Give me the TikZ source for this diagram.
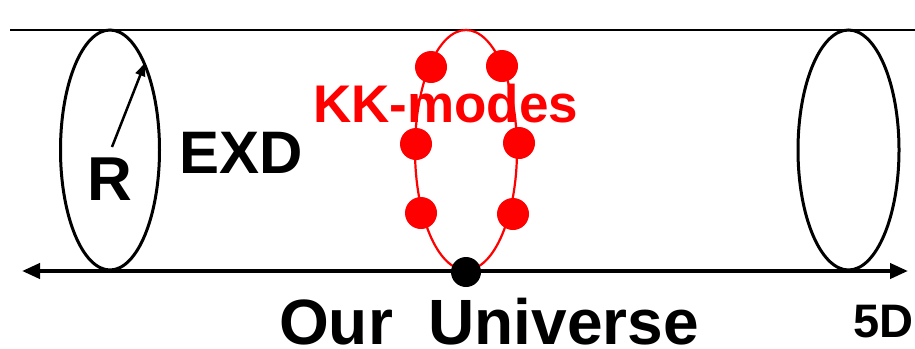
\documentclass[tikz,border=0pt]{standalone}
\usepackage{fontspec}
\setmainfont{Liberation Sans}
\usetikzlibrary{arrows.meta}
\tikzset{
  tube/.style={line width=2.5bp, black},
  ring/.style={line width=3bp, black},
  axis/.style={line width=4bp, black, {Triangle[length=18bp,width=15bp]}-{Triangle[length=18bp,width=15bp]}},
  kkring/.style={line width=2.2bp, red},
  kkdot/.style={circle, fill=red, inner sep=0pt, minimum size=32bp},
  udot/.style={circle, fill=black, inner sep=0pt, minimum size=30bp},
  lbl/.style={inner sep=0pt, font=\bfseries},
}
\begin{document}
\begin{tikzpicture}[x=1bp,y=-1bp]
\useasboundingbox (0,0) rectangle (915,348);
% tube
\coordinate (tl) at (10,30);
\coordinate (tr) at (915,30);
\draw[tube] (tl) -- (tr);
\coordinate (al) at (22,271);
\coordinate (ar) at (908,271);
\draw[axis] (al) -- (ar);
% end rings
\coordinate (lc) at (110,150);
\coordinate (rc) at (848.5,150);
\draw[ring] (lc) ellipse [x radius=49.5, y radius=120];
\draw[ring] (rc) ellipse [x radius=50.5, y radius=120];
% radius arrow
\coordinate (rs) at (112,147);
\coordinate (re) at (145,63);
\draw[line width=2.5bp, -{Triangle[length=13bp,width=10bp]}] (rs) -- (re);
% KK ring
\coordinate (kc) at (466,150);
\draw[kkring] (kc) ellipse [x radius=51, y radius=120];
\node[kkdot] (k1) at (431,67) {};
\node[kkdot] (k2) at (502,66) {};
\node[kkdot] (k3) at (416,144) {};
\node[kkdot] (k4) at (519,143) {};
\node[kkdot] (k5) at (421,213) {};
\node[kkdot] (k6) at (513,214) {};
\node[udot] (u) at (466,272) {};
% labels
\node[lbl, anchor=base, font=\fontsize{62bp}{62bp}\selectfont\bfseries] (R) at (110,200) {R};
\node[lbl, anchor=base west, font=\fontsize{60bp}{60bp}\selectfont\bfseries] (exd) at (179,173) {EXD};
\node[lbl, anchor=base west, red, font=\fontsize{53bp}{53bp}\selectfont\bfseries] (kk) at (313,122) {KK-modes};
\node[lbl, anchor=base west, font=\fontsize{64bp}{64bp}\selectfont\bfseries] (ou) at (279,344) {Our\ \ Universe};
\node[lbl, anchor=base east, font=\fontsize{47bp}{47bp}\selectfont\bfseries] (fd) at (914,337) {5D};
\end{tikzpicture}
\end{document}
